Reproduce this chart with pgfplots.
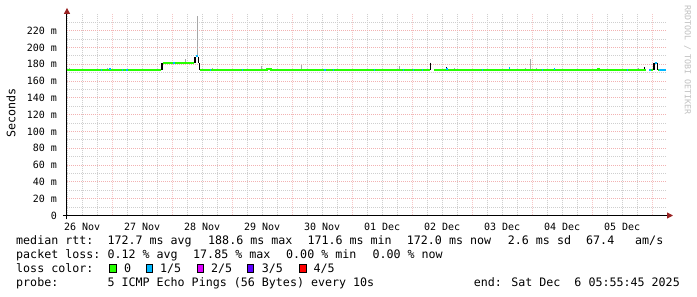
\documentclass[border=0pt]{standalone}
\usepackage{pgfplots}
\pgfplotsset{compat=1.18}
\usepackage{fontspec}
\usetikzlibrary{arrows.meta}
\newfontfamily\rrd{DejaVu Sans Mono}
\newcommand\legfont{\rrd\fontsize{11.66pt}{14pt}\selectfont}
\newcommand\axfont{\rrd\fontsize{10pt}{12pt}\selectfont}
\newcommand\wmfont{\rrd\fontsize{8.3pt}{10pt}\selectfont}
\definecolor{lcA}{HTML}{26FF00}
\definecolor{lcB}{HTML}{00B8FF}
\definecolor{lcC}{HTML}{DD00FF}
\definecolor{lcD}{HTML}{5E00FF}
\definecolor{lcE}{HTML}{FF0000}
\definecolor{gridgray}{HTML}{CFCFCF}
\definecolor{gridred}{HTML}{F2B2B2}
\definecolor{gridredv}{HTML}{F6C6C6}
\definecolor{arrowred}{HTML}{992222}
\definecolor{smoke}{HTML}{A8A8A8}
\definecolor{wm}{HTML}{C0C0C0}
\begin{document}
\begin{tikzpicture}[x=1pt,y=1pt]
\path[use as bounding box, fill=white] (0,0) rectangle (697,297);
\begin{axis}[
  at={(67pt,81.5pt)}, anchor=south west,
  scale only axis, width=600pt, height=201.6pt,
  xmin=0.24705, xmax=10.24705, ymin=0, ymax=240,
  axis lines=left,
  axis line style={draw=black, line width=1pt},
  x axis line style={-{Triangle[length=6pt,width=6pt,color=arrowred]}, shorten >=-6pt, shorten <=-4pt},
  y axis line style={-{Triangle[length=6pt,width=6pt,color=arrowred]}, shorten >=-6pt, shorten <=-4pt},
  grid=both, xmajorgrids=false,
  minor grid style={draw=gridgray, dash pattern=on 1pt off 1pt, line width=0.9pt},
  major grid style={draw=gridred, dash pattern=on 1pt off 1pt, line width=0.9pt},
  xtick={0.5,1.5,2.5,3.5,4.5,5.5,6.5,7.5,8.5,9.5},
  xticklabels={26 Nov,27 Nov,28 Nov,29 Nov,30 Nov,01 Dec,02 Dec,03 Dec,04 Dec,05 Dec},
  extra x ticks={1,2,3,4,5,6,7,8,9,10},
  extra x tick labels={},
  extra x tick style={grid=major, major grid style={draw=gridredv, dash pattern=on 1pt off 1pt, line width=0.9pt}},
  minor xtick={0.25,0.5,0.75,1.25,1.5,1.75,2.25,2.5,2.75,3.25,3.5,3.75,4.25,4.5,4.75,5.25,5.5,5.75,6.25,6.5,6.75,7.25,7.5,7.75,8.25,8.5,8.75,9.25,9.5,9.75,10.25},
  ytick={0,20,40,60,80,100,120,140,160,180,200,220},
  yticklabels={0,20 m,40 m,60 m,80 m,100 m,120 m,140 m,160 m,180 m,200 m,220 m},
  minor ytick={10,30,50,70,90,110,130,150,170,190,210,230},
  tick style={draw=none},
  xticklabel style={font=\axfont, anchor=base, yshift=-13pt, inner sep=0pt},
  yticklabel style={font=\axfont, anchor=east, inner sep=0pt, xshift=-7.7pt},
  unbounded coords=jump,
]
% smoke (outer pings)
\addplot[smoke, line width=1pt] coordinates {
(0.2854,172.8)(0.2854,175.5) (nan,nan)
(0.6021,172.8)(0.6021,174.2) (nan,nan)
(0.8088,172.8)(0.8088,174.2) (nan,nan)
(0.9188,172.8)(0.9188,175.2) (nan,nan)
(1.0754,172.8)(1.0754,174.2) (nan,nan)
(1.2588,172.8)(1.2588,174.2) (nan,nan)
(1.5188,172.8)(1.5188,174.2) (nan,nan)
(2.2254,181.5)(2.2254,186.5) (nan,nan)
(2.4188,189.0)(2.4188,238.0) (nan,nan)
(2.6688,172.8)(2.6688,175.2) (nan,nan)
(3.4804,172.8)(3.4804,178.0) (nan,nan)
(3.6188,172.8)(3.6188,175.2) (nan,nan)
(3.9804,172.8)(3.9804,174.2) (nan,nan)
(4.1588,172.8)(4.1588,179.5) (nan,nan)
(4.5304,172.8)(4.5304,174.2) (nan,nan)
(5.7854,172.8)(5.7854,178.0) (nan,nan)
(6.7021,172.8)(6.7021,176.0) (nan,nan)
(7.8804,172.8)(7.8804,176.0) (nan,nan)
(7.9754,172.8)(7.9754,186.0) (nan,nan)
(8.0638,172.8)(8.0638,176.0) (nan,nan)
(9.7688,172.8)(9.7688,176.0)
};
% dense smoke (inner pings)
\addplot[black, line width=1.3pt] coordinates {
(1.832,172.8)(1.832,181.5) (nan,nan)
(2.380,181.5)(2.380,189.0) (nan,nan)
(2.437,189.0)(2.437,181.5) (nan,nan)
(2.457,181.5)(2.457,172.8) (nan,nan)
(6.3088,182.0)(6.3088,173.0) (nan,nan)
(6.575,176.5)(6.575,173.0) (nan,nan)
(7.617,176.5)(7.617,173.0) (nan,nan)
(8.369,175.5)(8.369,173.0) (nan,nan)
(9.869,177.0)(9.869,173.0) (nan,nan)
(10.030,182.0)(10.030,173.0) (nan,nan)
(10.089,182.0)(10.089,173.0)
};
% median rtt, loss 0
\addplot[lcA, line width=2pt] coordinates {
(0.2471,172.8)(1.822,172.8) (nan,nan)
(1.842,181.5)(2.372,181.5) (nan,nan)
(2.462,172.8)(3.575,172.8)(3.575,174.8)(3.640,174.8)(3.640,172.8)(6.300,172.8) (nan,nan)
(6.360,172.8)(9.100,172.8)(9.100,174.5)(9.120,174.5)(9.120,172.8)(9.905,172.8) (nan,nan)
(9.960,172.8)(10.020,172.8) (nan,nan)
(10.100,172.8)(10.130,172.8)
};
% median rtt, loss 1/5
\addplot[lcB, line width=2pt] coordinates {
(0.815,172.8)(0.836,172.8) (nan,nan)
(0.955,174.0)(0.975,174.0) (nan,nan)
(1.160,172.8)(1.180,172.8) (nan,nan)
(1.237,172.8)(1.257,172.8) (nan,nan)
(2.020,181.5)(2.040,181.5) (nan,nan)
(2.395,189.5)(2.425,189.5) (nan,nan)
(2.632,172.8)(2.652,172.8) (nan,nan)
(3.159,172.8)(3.179,172.8) (nan,nan)
(4.537,172.8)(4.557,172.8) (nan,nan)
(4.675,172.8)(4.695,172.8) (nan,nan)
(5.359,172.8)(5.379,172.8) (nan,nan)
(5.842,172.8)(5.862,172.8) (nan,nan)
(6.009,172.8)(6.029,172.8) (nan,nan)
(6.165,172.8)(6.185,172.8) (nan,nan)
(6.570,174.0)(6.590,174.0) (nan,nan)
(7.159,172.8)(7.179,172.8) (nan,nan)
(7.610,175.0)(7.630,175.0) (nan,nan)
(8.159,172.8)(8.179,172.8) (nan,nan)
(8.360,174.0)(8.380,174.0) (nan,nan)
(9.575,172.8)(9.595,172.8) (nan,nan)
(9.955,173.5)(9.975,173.5) (nan,nan)
(10.055,182.0)(10.080,182.0) (nan,nan)
(10.120,172.8)(10.230,172.8)
};
\end{axis}
% y label
\node[rotate=90, font=\legfont, inner sep=0pt] at (11,183.7) {Seconds};
% watermark
\node[rotate=-90, font=\wmfont, text=wm, inner sep=0pt] at (687.5,237) {RRDTOOL / TOBI OETIKER};
% legend lines
\begin{scope}[every node/.style={anchor=base west, inner sep=0pt, font=\legfont}]
\node at (16,52.5) {median rtt:};
\node at (107.3,52.5) {172.7 ms avg};
\node at (208,52.5) {188.6 ms max};
\node at (307.3,52.5) {171.6 ms min};
\node at (406.7,52.5) {172.0 ms now};
\node at (507.7,52.5) {2.6 ms sd};
\node at (586,52.5) {67.4};
\node at (635,52.5) {am/s};
\node at (16,38.2) {packet loss:};
\node at (107.3,38.2) {0.12 \% avg};
\node at (193,38.2) {17.85 \% max};
\node at (286,38.2) {0.00 \% min};
\node at (372.3,38.2) {0.00 \% now};
\node at (16,24.2) {loss color:};
\node at (124,24.2) {0};
\node at (160,24.2) {1/5};
\node at (211,24.2) {2/5};
\node at (261.7,24.2) {3/5};
\node at (313.3,24.2) {4/5};
\node at (16,10.3) {probe:};
\node at (107.3,10.3) {5 ICMP Echo Pings (56 Bytes) every 10s};
\node[anchor=base east] at (680,10.3) {end: Sat Dec~~6 05:55:45 2025};
\end{scope}
\filldraw[fill=lcA, draw=black, line width=1pt] (109.8,24.5) rectangle (116.3,32);
\filldraw[fill=lcB, draw=black, line width=1pt] (146.2,24.5) rectangle (152.7,32);
\filldraw[fill=lcC, draw=black, line width=1pt] (197.2,24.5) rectangle (203.7,32);
\filldraw[fill=lcD, draw=black, line width=1pt] (247.2,24.5) rectangle (253.7,32);
\filldraw[fill=lcE, draw=black, line width=1pt] (299.5,24.5) rectangle (306,32);
\end{tikzpicture}
\end{document}
